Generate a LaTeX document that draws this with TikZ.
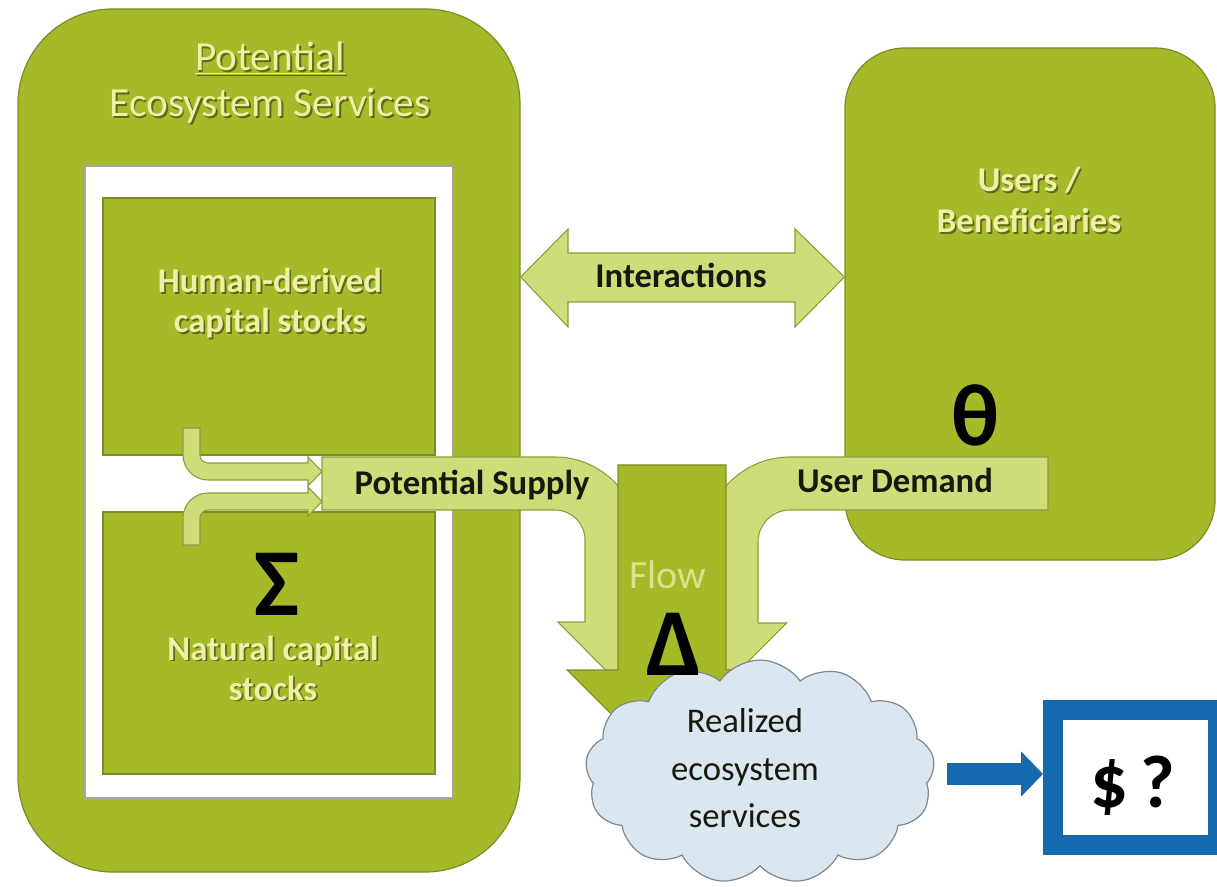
\documentclass[tikz,border=0pt]{standalone}
\usepackage{fontspec}
\setmainfont{Carlito}
\usetikzlibrary{fit,shapes.symbols,arrows.meta}
\definecolor{esgreen}{RGB}{166,185,40}
\definecolor{esdark}{RGB}{125,140,40}
\definecolor{eslight}{RGB}{206,221,122}
\definecolor{eslightdark}{RGB}{140,158,60}
\definecolor{ontextc}{RGB}{238,241,165}
\definecolor{shadowc}{RGB}{95,105,25}
\definecolor{labelc}{RGB}{22,26,12}
\definecolor{flowc}{RGB}{218,226,140}
\definecolor{cloudc}{RGB}{218,230,240}
\definecolor{cloudline}{RGB}{125,135,145}
\definecolor{esblue}{RGB}{20,105,175}
\newcommand\shd[1]{\makebox[0pt][l]{\kern1.3pt\raisebox{-1.3pt}{\textcolor{shadowc}{#1}}}#1}
\tikzset{
  greenbox/.style={fill=esgreen, draw=esdark, line width=0.9pt, inner sep=0pt},
  lightarrow/.style={fill=eslight, draw=eslightdark, line width=0.8pt},
  darkarrow/.style={fill=esgreen, draw=esdark, line width=0.8pt},
  lbl/.style={inner sep=0pt, anchor=base, text=labelc, font=\fontsize{26}{30}\selectfont\bfseries},
  ontxt/.style={inner sep=0pt, anchor=base, text=ontextc, font=\fontsize{26}{30}\selectfont\bfseries},
  titletxt/.style={inner sep=0pt, anchor=base, text=ontextc, font=\fontsize{31}{34}\selectfont},
  cloudtxt/.style={inner sep=0pt, anchor=base, text=labelc, font=\fontsize{26}{30}\selectfont},
  greek/.style={inner sep=0pt, anchor=base, text=black, font=\fontsize{72}{80}\selectfont\bfseries},
}
\begin{document}
\begin{tikzpicture}[x=0.75pt,y=-0.75pt]
\useasboundingbox (0,0) rectangle (1217,887);
\clip (0,0) rectangle (1217,887);
\fill[white] (0,0) rectangle (1217,887);

% left big box
\node[greenbox, rounded corners=71pt, fit={(18,9) (520,872)}] (big) {};
\node[fill=white, draw=gray!70, line width=0.9pt, inner sep=0pt, fit={(85,166) (453,798)}] (inner) {};
\node[greenbox, fit={(103,198) (435,455)}] (human) {};
\node[greenbox, fit={(103,512) (435,774)}] (natural) {};

% right box
\node[greenbox, rounded corners=45pt, fit={(845,48) (1215,560)}] (users) {};

% interactions double arrow
\draw[lightarrow] (big.east |- 0,277) -- (568,229) -- (568,253) -- (795,253) -- (795,229)
  -- (users.west |- 0,277) -- (795,327) -- (795,302) -- (568,302) -- (568,327) -- cycle;

% potential supply arrow
\draw[lightarrow] (322,457) -- (555,457) .. controls (600.8,457) and (638,494.2) .. (638,540)
  -- (638,622) -- (665,622) -- (611.5,676) -- (558,622) -- (585,622) -- (585,540)
  .. controls (585,523.4) and (571.6,510) .. (555,510) -- (322,510) -- cycle;

% user demand arrow
\draw[lightarrow] (1048,457) -- (790,457) .. controls (743.1,457) and (705,495.1) .. (705,542)
  -- (705,623) -- (676.5,623) -- (731.5,678) -- (786.5,623) -- (758,623) -- (758,542)
  .. controls (758,524.3) and (772.3,510) .. (790,510) -- (1048,510) -- cycle;

% flow column
\draw[darkarrow] (618,465) -- (726,465) -- (726,670) -- (777,670) -- (672,775) -- (567,670) -- (618,670) -- cycle;

% fork arrows
\draw[lightarrow] (183,428) -- (183,455) .. controls (183,468.8) and (194.2,480) .. (208,480)
  -- (308,480) -- (308,486) -- (322,471.5) -- (308,457) -- (308,463) -- (208,463)
  .. controls (203.6,463) and (200,459.4) .. (200,455) -- (200,428) -- cycle;
\draw[lightarrow] (183,545) -- (183,518) .. controls (183,504.2) and (194.2,493) .. (208,493)
  -- (308,493) -- (308,487) -- (322,501.5) -- (308,516) -- (308,510) -- (208,510)
  .. controls (203.6,510) and (200,513.6) .. (200,518) -- (200,545) -- cycle;

% texts on green
\node[titletxt] (t1) at (270,71) {\shd{\underline{Potential}}};
\node[titletxt] (t2) at (270,117) {\shd{Ecosystem Services}};
\node[ontxt] (h1) at (270,293) {\shd{Human-derived}};
\node[ontxt] (h2) at (270,333) {\shd{capital stocks}};
\node[ontxt] (n1) at (273,660) {\shd{Natural capital}};
\node[ontxt] (n2) at (273,700) {\shd{stocks}};
\node[ontxt] (u1) at (1029,192) {\shd{Users /}};
\node[ontxt] (u2) at (1029,233) {\shd{Beneficiaries}};

% labels on arrows
\node[lbl] (inter) at (681,288) {Interactions};
\node[lbl] (supply) at (472,495) {Potential Supply};
\node[lbl] (demand) at (895,493) {User Demand};
\node[inner sep=0pt, anchor=base, text=flowc, font=\fontsize{30}{32}\selectfont] (flow) at (668,588) {Flow};

% cloud
\node[cloud, cloud puffs=13, cloud puff arc=110, aspect=1.55, draw=cloudline, fill=cloudc,
  line width=0.9pt, minimum width=262pt, minimum height=168pt, inner sep=0pt] (cloud) at (760,772) {};
\node[cloudtxt] (c1) at (745,732) {Realized};
\node[cloudtxt] (c2) at (745,780) {ecosystem};
\node[cloudtxt] (c3) at (745,827) {services};

% dollar box and blue arrow
\node[draw=esblue, line width=15pt, fill=white, minimum width=123.75pt, minimum height=101.25pt,
  inner sep=0pt] (dollar) at (1135.5,777.5) {};
\node[inner sep=0pt, anchor=base, text=black, font=\fontsize{56}{60}\selectfont\bfseries] (dq) at (1133,807) {\$\,?};
\coordinate (bstart) at (947,774);
\draw[esblue, line width=16.5pt, -{Triangle[length=16.5pt,width=33pt]}] (bstart) -- (dollar.west |- bstart);

% greek symbols
\node[greek] (sigma) at (277,615) {Σ};
\node[greek] (delta) at (674,675) {Δ};
\node[greek, font=\fontsize{66}{70}\selectfont\bfseries] (theta) at (975,446) {θ};
\end{tikzpicture}
\end{document}
